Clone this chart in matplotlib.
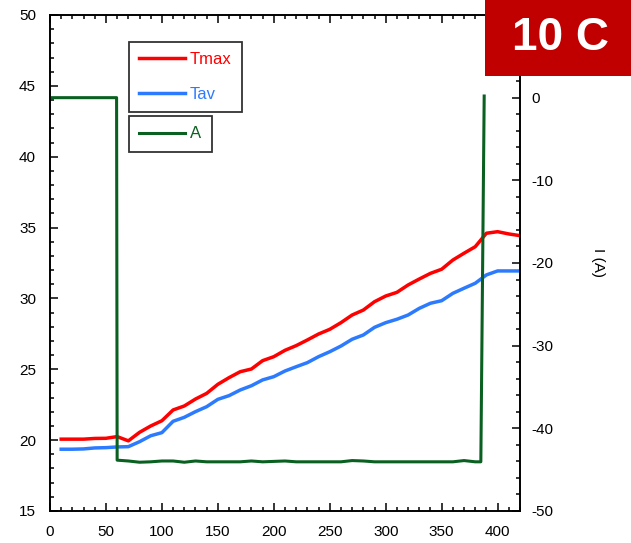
import matplotlib
matplotlib.use("Agg")
import matplotlib.pyplot as plt
from matplotlib.patches import Rectangle
from matplotlib.ticker import MultipleLocator

plt.rcParams['font.family'] = ['Liberation Sans', 'DejaVu Sans']
plt.rcParams['axes.unicode_minus'] = False

# ---- data ----
time_T = [10, 20, 30, 40, 50, 60, 70, 80, 90, 100, 110, 120, 130, 140, 150, 160, 170, 180,
          190, 200, 210, 220, 230, 240, 250, 260, 270, 280, 290, 300, 310, 320, 330, 340,
          350, 360, 370, 380, 390, 400, 410, 420]
tmax = [20.07, 20.07, 20.07, 20.12, 20.13, 20.25, 19.95, 20.55, 21.0, 21.37, 22.13, 22.41,
        22.9, 23.3, 23.94, 24.41, 24.83, 25.02, 25.61, 25.89, 26.34, 26.67, 27.07, 27.49,
        27.82, 28.29, 28.83, 29.18, 29.77, 30.17, 30.43, 30.95, 31.37, 31.77, 32.06, 32.71,
        33.19, 33.65, 34.6, 34.71, 34.55, 34.43]
tav = [19.36, 19.36, 19.38, 19.45, 19.47, 19.52, 19.54, 19.89, 20.31, 20.53, 21.33, 21.61,
       22.01, 22.36, 22.88, 23.14, 23.54, 23.84, 24.25, 24.48, 24.88, 25.18, 25.47, 25.89,
       26.24, 26.64, 27.12, 27.42, 27.96, 28.29, 28.53, 28.83, 29.3, 29.66, 29.84, 30.36,
       30.72, 31.07, 31.66, 31.94, 31.94, 31.94]

time_A = [0, 10, 20, 30, 40, 50, 59.5, 60, 70, 80, 90, 100, 110, 120, 130, 140, 150, 160,
          170, 180, 190, 200, 210, 220, 230, 240, 250, 260, 270, 280, 290, 300, 310, 320,
          330, 340, 350, 360, 370, 380, 385, 388]
current_A = [0, 0, 0, 0, 0, 0, 0, -43.85, -43.95, -44.1, -44.05, -43.95, -43.95, -44.1,
             -43.95, -44.05, -44.05, -44.05, -44.05, -43.95, -44.05, -44.0, -43.95, -44.05,
             -44.05, -44.05, -44.05, -44.05, -43.9, -43.95, -44.05, -44.05, -44.05, -44.05,
             -44.05, -44.05, -44.05, -44.05, -43.9, -44.05, -44.05, 0.2]

x_ticks = [0, 50, 100, 150, 200, 250, 300, 350, 400]
left_ticks = [15, 20, 25, 30, 35, 40, 45, 50]
right_ticks = [-50, -40, -30, -20, -10, 0]

W, H = 631, 543
fig = plt.figure(figsize=(W / 100, H / 100), dpi=100)
ax = fig.add_axes([50 / W, 1 - 511 / H, 470 / W, 496 / H])
ax2 = ax.twinx()

l1, = ax.plot(time_T, tmax, color='#FF0000', lw=2.5, solid_joinstyle='round')
l2, = ax.plot(time_T, tav, color='#2C7BFF', lw=2.5, solid_joinstyle='round')
l3, = ax2.plot(time_A, current_A, color='#0A6020', lw=2.2)

ax.set_xlim(0, 420)
ax.set_ylim(15, 50)
ax2.set_ylim(-50, 10)

ax.set_xticks(x_ticks)
ax.set_yticks(left_ticks)
ax2.set_yticks(right_ticks)
ax.xaxis.set_minor_locator(MultipleLocator(10))
ax.yaxis.set_minor_locator(MultipleLocator(1))
ax2.yaxis.set_minor_locator(MultipleLocator(2))

for a in (ax, ax2):
    for s in a.spines.values():
        s.set_linewidth(1.2)
        s.set_color('black')

ax.tick_params(axis='x', which='both', direction='in', top=True, bottom=True,
               labelsize=11, pad=10, width=1.1)
ax.tick_params(axis='y', which='both', direction='in', left=True, right=False,
               labelsize=11, pad=10, width=1.1)
ax.tick_params(which='major', length=6)
ax.tick_params(which='minor', length=3.2)
ax2.tick_params(axis='y', which='both', direction='in', labelsize=11, pad=8, width=1.1)
ax2.tick_params(which='major', length=6)
ax2.tick_params(which='minor', length=3.2)

ax2.set_ylabel('I (A)', rotation=270, fontsize=11, labelpad=30)
ax2.yaxis.set_label_coords(1 + (605 - 520) / 470, 0.5)

leg1 = ax2.legend([l1, l2], ['Tmax', 'Tav'], loc='upper left',
                  bbox_to_anchor=(129 / W, 1 - 42 / H), bbox_transform=fig.transFigure,
                  fontsize=12, handlelength=2.75, handletextpad=0.3, borderpad=0.6,
                  labelspacing=1.2, borderaxespad=0, fancybox=False, framealpha=1,
                  edgecolor='#333333', labelcolor=['#FF0000', '#2C7BFF'])
leg1.get_frame().set_linewidth(1.3)
ax2.add_artist(leg1)
leg2 = ax2.legend([l3], ['A'], loc='upper left',
                  bbox_to_anchor=(129 / W, 1 - 116 / H), bbox_transform=fig.transFigure,
                  fontsize=12, handlelength=2.75, handletextpad=0.3, borderpad=0.62,
                  borderaxespad=0, fancybox=False, framealpha=1,
                  edgecolor='#333333', labelcolor=['#0A6020'])
leg2.get_frame().set_linewidth(1.3)

badge = Rectangle((485 / W, 1 - 76 / H), (W - 485) / W, 76 / H, transform=fig.transFigure,
                  facecolor='#C00000', edgecolor='none', zorder=20)
fig.add_artist(badge)
fig.text(560 / W, 1 - 38 / H, '10 C', color='white', fontsize=33, fontweight='bold',
         ha='center', va='center', zorder=21)

fig.savefig('out.png', dpi=100)
